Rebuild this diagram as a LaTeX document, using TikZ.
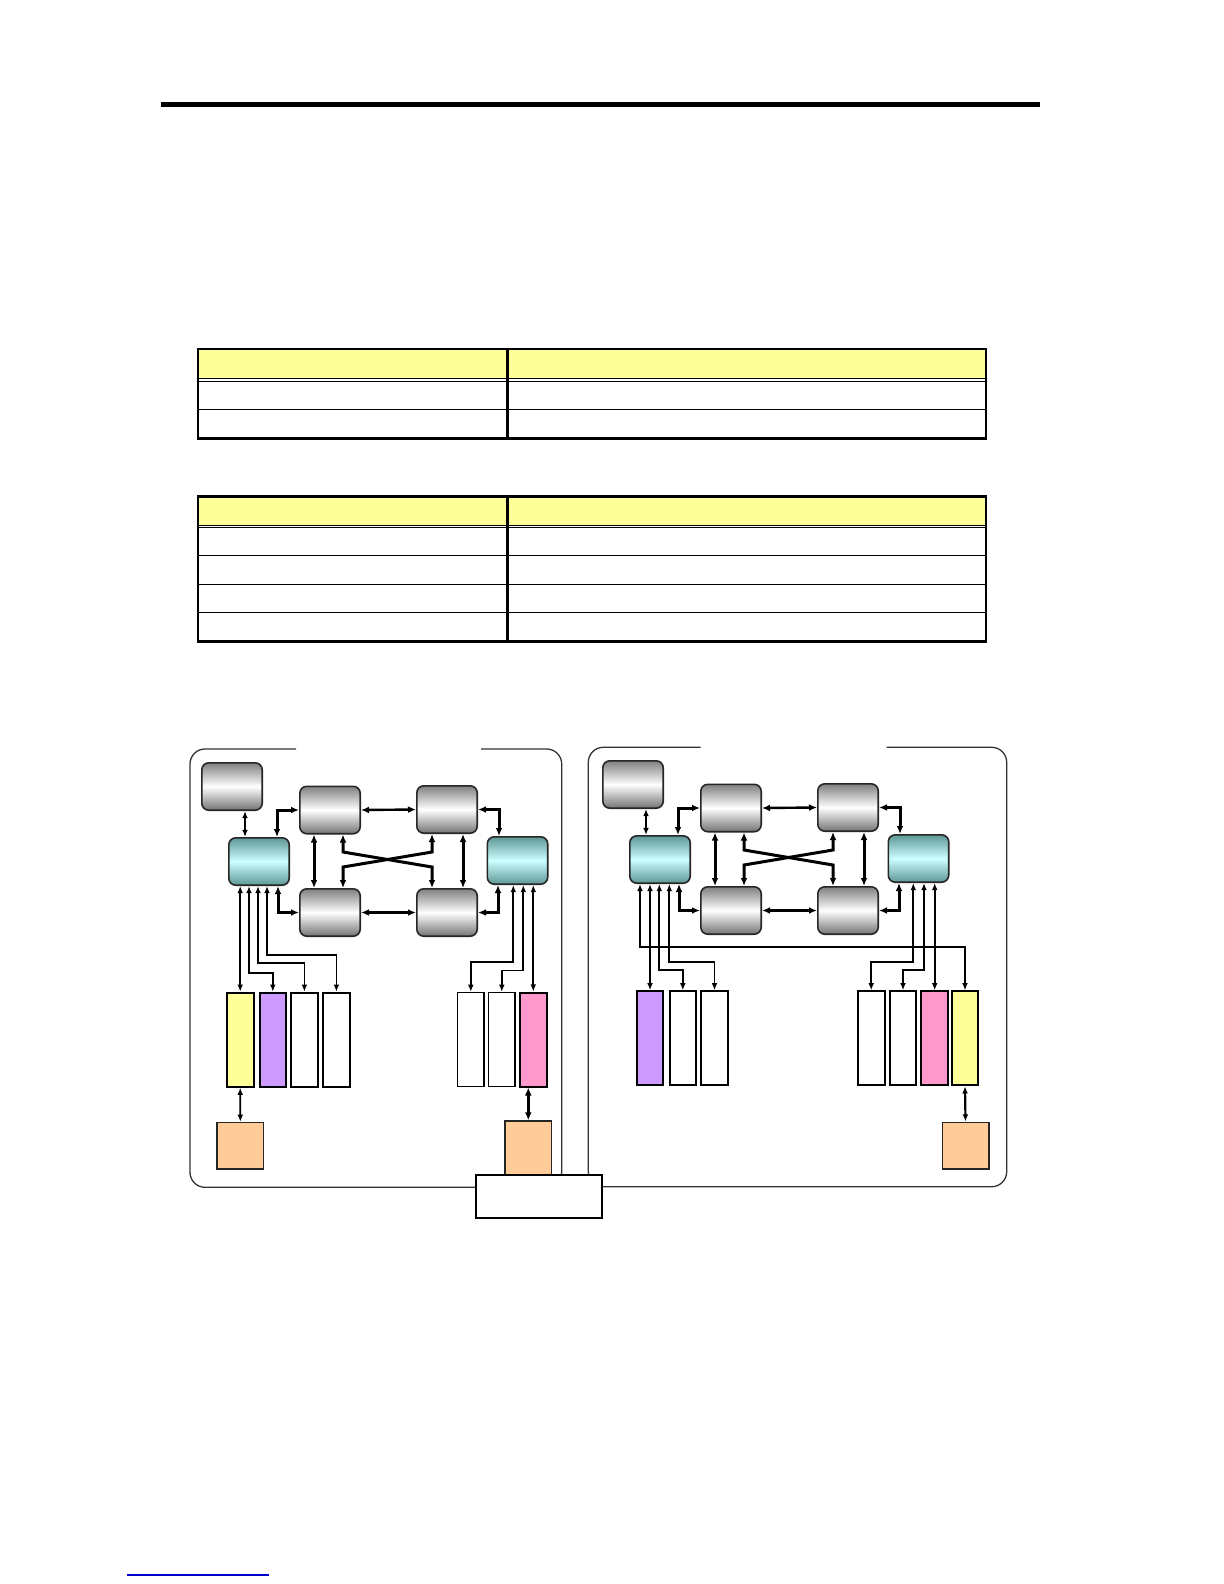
\documentclass[tikz,border=0pt]{standalone}
\usetikzlibrary{arrows.meta}

\definecolor{hdryellow}{RGB}{255,255,153}
\definecolor{slotpurple}{RGB}{204,153,255}
\definecolor{slotpink}{RGB}{255,153,204}
\definecolor{cardorange}{RGB}{255,204,153}
\definecolor{cyanlt}{RGB}{204,255,255}
\definecolor{cyandk}{RGB}{95,150,150}
\definecolor{linkblue}{RGB}{0,0,204}

\begin{document}
\begin{tikzpicture}[x=0.5pt,y=-0.5pt,
  gbox/.style={draw=black!85,line width=0.8pt,rounded corners=3.5pt,minimum width=30.2pt,minimum height=23.7pt,inner sep=0pt,
    top color=black!50,bottom color=black!55,middle color=white},
  cbox/.style={gbox,top color=cyandk,bottom color=cyandk,middle color=cyanlt},
  slot/.style={draw,line width=1pt,minimum width=13.3pt,minimum height=47pt,inner sep=0pt},
  card/.style={draw=black!85,line width=0.7pt,fill=cardorange,minimum width=23.3pt,minimum height=23.3pt,inner sep=0pt},
  lnk/.style={{Latex[length=3.6pt,width=2.9pt]}-{Latex[length=3.6pt,width=2.9pt]},line width=0.9pt},
  bus/.style={{Latex[length=4pt,width=3.4pt]}-{Latex[length=4pt,width=3.4pt]},line width=1.5pt},
  panel/.style={draw=black!80,line width=0.65pt,rounded corners=7.5pt}]
\path[use as bounding box,fill=white] (0,0) rectangle (1224,1584);

% Heading rule
\draw[line width=2.5pt] (161,105) -- (1040,105);

% Table 1
\fill[hdryellow] (198,349) rectangle (986,378.5);
\draw[line width=0.5pt] (198,378.5) -- (986,378.5) (198,381) -- (986,381) (198,409.3) -- (986,409.3);
\draw[line width=1.35pt] (198,349) rectangle (986,438.3) (507.7,349) -- (507.7,438.3);

% Table 2
\fill[hdryellow] (198,496.7) rectangle (986,525.3);
\draw[line width=0.5pt] (198,525.3) -- (986,525.3) (198,527.8) -- (986,527.8)
  (198,555.3) -- (986,555.3) (198,584.3) -- (986,584.3) (198,612.7) -- (986,612.7);
\draw[line width=1.35pt] (198,496.7) rectangle (986,641.7) (507.7,496.7) -- (507.7,641.7);

% Panels
\draw[panel] (296,749) -| (190,1187.3) -| (561.7,749) -- (481,749);
\draw[panel] (700.7,747.3) -| (588.3,1186.7) -| (1006.7,747.3) -- (886.7,747.3);

% Processor / memory core of each panel
\foreach \p/\dx/\dy in {L/0/0,R/401/-2} {
\begin{scope}[shift={(\dx,\dy)}]
  \node[gbox] (m\p) at (232,786.5) {};
  \node[cbox] (cl\p) at (259,861.5) {};
  \node[cbox] (cr\p) at (517.5,860.5) {};
  \node[gbox] (a\p) at (330,810) {};
  \node[gbox] (b\p) at (447,809.5) {};
  \node[gbox] (c\p) at (330,912.5) {};
  \node[gbox] (d\p) at (447,912.5) {};

  \draw[lnk] (245,0 |- m\p.south) -- (245,0 |- cl\p.north);
  \draw[bus] (277,0 |- cl\p.north) |- (a\p.west);
  \draw[bus] (278,0 |- cl\p.south) |- (c\p.west);
  \draw[bus,line width=1.2pt] (a\p.east) -- (b\p.west);
  \draw[bus,line width=1.2pt] (c\p.east) -- (d\p.west);
  \draw[bus] (b\p.east) -| (499,0 |- cr\p.north);
  \draw[bus] (d\p.east) -| (498,0 |- cr\p.south);
  \draw[bus] (314,0 |- a\p.south) -- (314,0 |- c\p.north);
  \draw[bus] (463,0 |- b\p.south) -- (463,0 |- d\p.north);
  % crossing links
  \draw[bus] (343,0 |- a\p.south) -- (343,852) -- (432,867) -- (432,0 |- d\p.north);
  \draw[bus] (343,0 |- c\p.north) -- (343,867) -- (432,852) -- (432,0 |- b\p.south);
\end{scope}
}

% Left panel slots
\node[slot,fill=hdryellow] (ls1) at (240.2,1039.7) {};
\node[slot,fill=slotpurple] (ls2) at (272.8,1039.7) {};
\node[slot] (ls3) at (304.4,1039.7) {};
\node[slot] (ls4) at (336.4,1039.7) {};
\node[slot,line width=0.7pt] (ls5) at (470.8,1039.5) {};
\node[slot,line width=0.7pt] (ls6) at (501.8,1039.5) {};
\node[slot,fill=slotpink] (ls7) at (533.3,1039.5) {};
\node[card] (lo1) at (240.3,1145.8) {};
\node[card,minimum height=27pt] (lo2) at (528.3,1148) {};

\draw[lnk] (ls1.north |- clL.south) -- (ls1.north);
\draw[lnk] (249,0 |- clL.south) -- (249,972.7) -| (ls2.north);
\draw[lnk] (258,0 |- clL.south) -- (258,963) -| (ls3.north);
\draw[lnk] (267,0 |- clL.south) -- (267,955) -| (ls4.north);
\draw[lnk] (513.3,0 |- crL.south) -- (513.3,962) -| (ls5.north);
\draw[lnk] (523.3,0 |- crL.south) -- (523.3,970.5) -| (ls6.north);
\draw[lnk] (ls7.north |- crL.south) -- (ls7.north);
\draw[lnk] (ls1.south) -- (lo1.north);
\draw[bus,line width=1.3pt] (lo2.north |- ls7.south) -- (lo2.north);

% Right panel slots
\node[slot,fill=slotpurple] (rs1) at (650,1038.3) {};
\node[slot] (rs2) at (682.8,1038.3) {};
\node[slot] (rs3) at (714.5,1038.3) {};
\node[slot] (rs4) at (871.2,1038.3) {};
\node[slot] (rs5) at (903,1038.3) {};
\node[slot,fill=slotpink] (rs6) at (934.7,1038.3) {};
\node[slot,fill=hdryellow] (rs7) at (965,1038.3) {};
\node[card] (ro1) at (965.5,1145.5) {};

\draw[lnk] (640,0 |- clR.south) -- (640,947.3) -| (rs7.north);
\draw[lnk] (rs1.north |- clR.south) -- (rs1.north);
\draw[lnk] (659.3,0 |- clR.south) -- (659.3,970) -| (rs2.north);
\draw[lnk] (669.3,0 |- clR.south) -- (669.3,961.7) -| (rs3.north);
\draw[lnk] (913.3,0 |- crR.south) -- (913.3,961.7) -| (rs4.north);
\draw[lnk] (924,0 |- crR.south) -- (924,970) -| (rs5.north);
\draw[lnk] (rs6.north |- crR.south) -- (rs6.north);
\draw[lnk,line width=1.1pt] (rs7.south) -- (ro1.north);

% Shared box
\node[draw,line width=1pt,fill=white,minimum width=62.8pt,minimum height=21.3pt,inner sep=0pt] (hub) at (538.8,1196.7) {};

% Footnote rule
\draw[linkblue,line width=0.6pt] (127,1575) -- (269,1575);
\end{tikzpicture}
\end{document}
